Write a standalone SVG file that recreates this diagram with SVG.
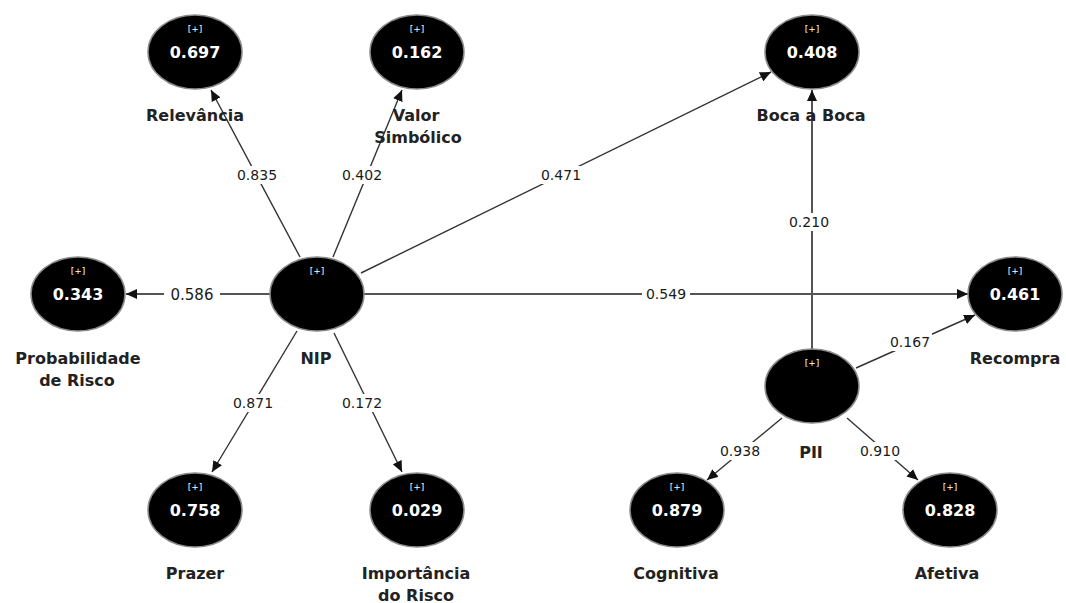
<svg xmlns="http://www.w3.org/2000/svg" width="1066" height="603" viewBox="0 0 1066 603">
<defs>
<marker id="arr" markerUnits="userSpaceOnUse" markerWidth="12" markerHeight="10" refX="11" refY="5" orient="auto">
<path d="M0,0 L11,5 L0,10 z" fill="#111"/>
</marker>
<style>
.c{fill:#000;stroke:#8a8a8a;stroke-width:1.5}
.v{font-family:"DejaVu Sans",sans-serif;font-weight:bold;font-size:16px;fill:#fff;text-anchor:middle}
.p{font-family:"DejaVu Sans",sans-serif;font-size:9px;fill:#fff;text-anchor:middle}
.n{font-family:"DejaVu Sans",sans-serif;font-weight:bold;font-size:16px;fill:#222;text-anchor:middle}
.e{stroke:#333;stroke-width:1.4;fill:none;marker-end:url(#arr)}
.h{stroke:#555;stroke-width:2}
.l{font-family:"DejaVu Sans",sans-serif;font-size:14px;fill:#1a1a1a;text-anchor:middle}
.b{fill:#fff}
</style>
</defs>
<rect width="1066" height="603" fill="#fff"/>
<g id="connectors">
<line class="e" x1="300" y1="257" x2="211" y2="90"/>
<line class="e" x1="333" y1="257" x2="402" y2="90"/>
<line class="e" x1="361" y1="273" x2="771" y2="72"/>
<line class="e h" x1="270" y1="294" x2="126" y2="294"/>
<line class="e h" x1="364" y1="294" x2="968" y2="294"/>
<line class="e h" x1="812" y1="349" x2="812" y2="90"/>
<line class="e" x1="856" y1="368" x2="975" y2="315"/>
<line class="e" x1="782" y1="418" x2="707" y2="480"/>
<line class="e" x1="847" y1="418" x2="918" y2="480"/>
<line class="e" x1="297" y1="331" x2="212" y2="472"/>
<line class="e" x1="334" y1="333" x2="402" y2="472"/>
<rect class="b" x="235" y="166" width="44" height="18"/><text class="l" x="257" y="180">0.835</text>
<rect class="b" x="340" y="166" width="44" height="18"/><text class="l" x="362" y="180">0.402</text>
<rect class="b" x="539" y="166" width="44" height="18"/><text class="l" x="561" y="180">0.471</text>
<rect class="b" x="787" y="213" width="44" height="18"/><text class="l" x="809" y="227">0.210</text>
<rect class="b" x="164" y="284" width="56" height="20"/><text class="l" x="192" y="300" style="font-size:15px">0.586</text>
<rect class="b" x="642" y="285" width="48" height="18"/><text class="l" x="666" y="299">0.549</text>
<rect class="b" x="888" y="333" width="44" height="18"/><text class="l" x="910" y="347">0.167</text>
<rect class="b" x="231" y="394" width="44" height="18"/><text class="l" x="253" y="408">0.871</text>
<rect class="b" x="340" y="394" width="44" height="18"/><text class="l" x="362" y="408">0.172</text>
<rect class="b" x="718" y="442" width="44" height="18"/><text class="l" x="740" y="456">0.938</text>
<rect class="b" x="858" y="442" width="44" height="18"/><text class="l" x="880" y="456">0.910</text>
</g>
<g id="relevancia">
<ellipse class="c" cx="195" cy="52" rx="47" ry="37"/>
<text class="p" x="195" y="32">[+]</text>
<text class="v" x="195" y="58">0.697</text>
<text class="n" x="195" y="121">Relevância</text>
</g>
<g id="valor-simbolico">
<ellipse class="c" cx="417" cy="52" rx="47" ry="37"/>
<text class="p" x="417" y="32">[+]</text>
<text class="v" x="417" y="58">0.162</text>
<text class="n" x="416" y="121">Valor</text>
<text class="n" x="418" y="143">Simbólico</text>
</g>
<g id="boca-a-boca">
<ellipse class="c" cx="812" cy="52" rx="47" ry="37"/>
<text class="p" x="812" y="32">[+]</text>
<text class="v" x="812" y="58">0.408</text>
<text class="n" x="811" y="121">Boca a Boca</text>
</g>
<g id="probabilidade-de-risco">
<ellipse class="c" cx="78" cy="294" rx="47" ry="37"/>
<text class="p" x="78" y="274">[+]</text>
<text class="v" x="78" y="300">0.343</text>
<text class="n" x="78" y="364">Probabilidade</text>
<text class="n" x="77" y="386">de Risco</text>
</g>
<g id="nip">
<ellipse class="c" cx="317" cy="294" rx="47" ry="37"/>
<text class="p" x="317" y="274">[+]</text>
<text class="n" x="316" y="364">NIP</text>
</g>
<g id="recompra">
<ellipse class="c" cx="1015" cy="294" rx="47" ry="37"/>
<text class="p" x="1015" y="274">[+]</text>
<text class="v" x="1015" y="300">0.461</text>
<text class="n" x="1015" y="364">Recompra</text>
</g>
<g id="pii">
<ellipse class="c" cx="812" cy="386" rx="47" ry="37"/>
<text class="p" x="812" y="366">[+]</text>
<text class="n" x="811" y="458">PII</text>
</g>
<g id="prazer">
<ellipse class="c" cx="195" cy="510" rx="47" ry="37"/>
<text class="p" x="195" y="490">[+]</text>
<text class="v" x="195" y="516">0.758</text>
<text class="n" x="195" y="579">Prazer</text>
</g>
<g id="importancia-do-risco">
<ellipse class="c" cx="417" cy="510" rx="47" ry="37"/>
<text class="p" x="417" y="490">[+]</text>
<text class="v" x="417" y="516">0.029</text>
<text class="n" x="416" y="579">Importância</text>
<text class="n" x="416" y="601">do Risco</text>
</g>
<g id="cognitiva">
<ellipse class="c" cx="677" cy="510" rx="47" ry="37"/>
<text class="p" x="677" y="490">[+]</text>
<text class="v" x="677" y="516">0.879</text>
<text class="n" x="676" y="579">Cognitiva</text>
</g>
<g id="afetiva">
<ellipse class="c" cx="950" cy="510" rx="47" ry="37"/>
<text class="p" x="950" y="490">[+]</text>
<text class="v" x="950" y="516">0.828</text>
<text class="n" x="947" y="579">Afetiva</text>
</g>
</svg>
